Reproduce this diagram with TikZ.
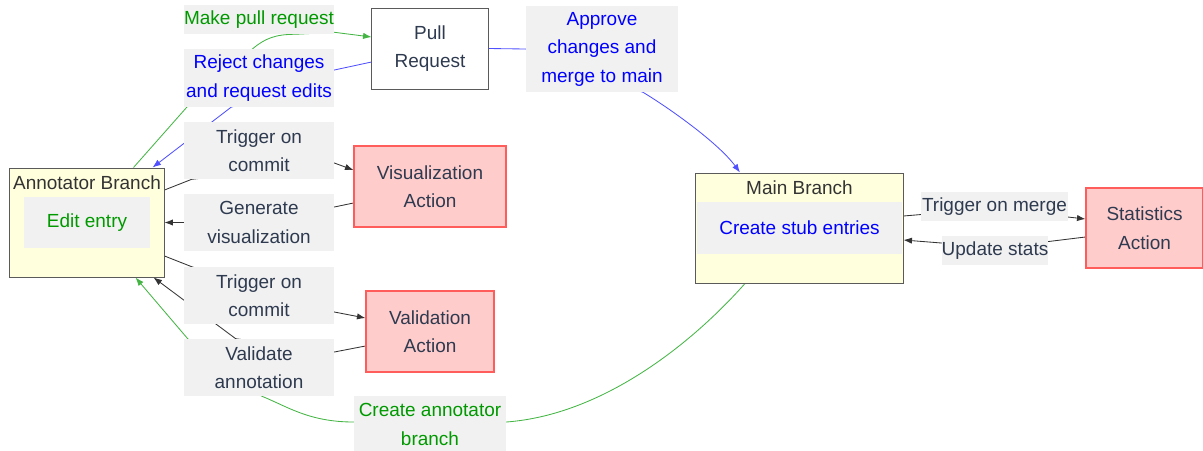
\documentclass[tikz,border=0pt]{standalone}
\usepackage{fontspec}
\setmainfont{Liberation Sans}
\usetikzlibrary{arrows.meta,calc,backgrounds}

\definecolor{lblgray}{HTML}{F1F1F1}
\definecolor{branchyellow}{HTML}{FFFFDE}
\definecolor{boxgray}{HTML}{5A5A5A}
\definecolor{actpink}{HTML}{FFCCCC}
\definecolor{actred}{HTML}{FF5C5C}
\definecolor{editgreen}{HTML}{009900}
\definecolor{pureblue}{HTML}{0000FF}
\definecolor{linegreen}{HTML}{44B544}
\definecolor{lineblue}{HTML}{5050FF}
\definecolor{linegray}{HTML}{333333}
\definecolor{titledark}{HTML}{333333}
\definecolor{txtslate}{HTML}{2E3A4F}

\tikzset{
    branchbox/.style={rectangle, draw=boxgray, fill=branchyellow, line width=0.7pt},
    actionbox/.style={rectangle, draw=actred, fill=actpink, line width=0.8pt, minimum height=2.025cm},
    lbl/.style={rectangle, fill=lblgray, minimum width=3.75cm},
    arr/.style={-{Latex[length=6pt,width=4.5pt]}},
    gline/.style={draw=linegreen, line width=0.6pt},
    bline/.style={draw=lineblue, line width=0.6pt},
    eline/.style={draw=linegray, line width=0.6pt},
}

\begin{document}
\begin{tikzpicture}[x=0.025cm, y=-0.025cm,
        every node/.style={align=center, inner sep=0pt, text=txtslate,
            font=\fontsize{13.5}{20.3}\selectfont}]
    \useasboundingbox (0,0) rectangle (1203,450);

    % branches
    \node[branchbox, minimum width=3.85cm, minimum height=2.725cm] (ann) at (87,222.5) {};
    \node[text=titledark] (anntitle) at (87,183) {Annotator Branch};
    \node[fill=lblgray, minimum width=3.15cm, minimum height=1.275cm, text=editgreen] (edit) at (87,222.5) {Edit entry};

    \node[branchbox, minimum width=5.175cm, minimum height=2.75cm] (main) at (799.5,228) {};
    \node[text=titledark] (maintitle) at (799.5,188) {Main Branch};
    \node[fill=lblgray, minimum width=5.13cm, minimum height=1.3cm, text=pureblue] (stub) at (799.5,228) {Create stub entries};

    % pull request and actions
    \node[rectangle, draw=boxgray, fill=white, line width=0.7pt, minimum width=2.9cm, minimum height=2.025cm] (pr) at (430,48.5) {Pull\\Request};
    \node[actionbox, minimum width=3.8cm] (vis) at (430,186.5) {Visualization\\Action};
    \node[actionbox, minimum width=3.2cm] (val) at (430,331.5) {Validation\\Action};
    \node[actionbox, minimum width=2.925cm, minimum height=2cm] (stats) at (1144.5,228) {Statistics\\Action};

    % edge labels
    \node[lbl, minimum height=0.725cm, text=editgreen] (mpr) at (259,19.5) {Make pull request};
    \node[lbl, minimum height=1.45cm, text=pureblue] (rej) at (259,78) {Reject changes\\and request edits};
    \node[lbl, minimum height=1.425cm] (trg1) at (259,150.5) {Trigger on\\commit};
    \node[lbl, minimum height=1.425cm] (gen) at (259,222.5) {Generate\\visualization};
    \node[lbl, minimum height=1.425cm] (trg2) at (259,295.5) {Trigger on\\commit};
    \node[lbl, minimum height=1.425cm] (vld) at (259,367.5) {Validate\\annotation};
    \node[lbl, minimum width=3.8cm, minimum height=2.15cm, text=pureblue] (apr) at (602,49) {Approve\\changes and\\merge to main};
    \node[lbl, minimum width=3.8cm, minimum height=1.425cm, text=editgreen] (cab) at (430,424.5) {Create annotator\\branch};
    \node[lbl, minimum width=3.65cm, minimum height=0.725cm] (tom) at (994.5,206.5) {Trigger on merge};
    \node[lbl, minimum width=2.65cm, minimum height=0.725cm] (ust) at (995,250.5) {Update stats};

    % connectors, behind the labels
    \begin{pgfonlayer}{background}
        \draw[gline, arr] ($(ann.north east)+(-31,0)$) -- ($(rej.south west)+(3,0)$) -- ($(rej.north west)+(69,0)$)
            .. controls +(12,-10) and +(-20,0) .. ($(mpr.south)+(36,0)$) -- ($(mpr.south east)+(0,-2)$) -- ($(pr.west)+(0,-11.5)$);
        \draw[bline, arr] ($(pr.west)+(0,13.5)$) -- ($(rej.east)+(0,-8)$) -- ($(rej.south)+(-28,0)$) -- ($(ann.north east)+(-12,0)$);

        \draw[eline, arr] ($(ann.east)+(0,-32.5)$) -- ($(trg1.south west)+(8,0)$) -- ($(trg1.east)+(0,12.5)$) -- ($(vis.west)+(0,-16.5)$);
        \draw[eline, arr] ($(vis.west)+(0,16.5)$) -- ($(gen.east)+(0,-15.5)$) -- (gen.west) -- (ann.east);
        \draw[eline, arr] ($(ann.east)+(0,33.5)$) -- ($(trg2.north west)+(8,0)$) -- ($(trg2.east)+(0,16.5)$) -- ($(val.west)+(0,-13.5)$);
        \draw[eline, arr] ($(val.west)+(0,14.5)$) -- ($(vld.east)+(0,-15.5)$) -- ($(vld.north west)+(52,0)$) -- ($(ann.south east)+(-11,0)$);

        \draw[gline, arr] ($(main.south)+(-54.5,0)$) .. controls +(-55,62) and +(95,-7) .. ($(cab.east)+(0,-2.5)$)
            -- ($(cab.west)+(0,-2.5)$) .. controls +(-45,0) and +(25,10) .. ($(vld.south)+(3,0)$)
            -- ($(vld.north west)+(4,0)$) -- ($(ann.south east)+(-29,0)$);

        \draw[bline, arr] (pr.east) -- (apr.west) -- ($(apr.south)+(41,0)$)
            .. controls +(25,15) and +(-22,-30) .. ($(main.north)+(-59.5,0)$);

        \draw[eline, arr] ($(main.east)+(0,-12)$) -- ($(tom.west)+(0,8)$) -- ($(tom.east)+(0,10.5)$) -- ($(stats.west)+(0,-9)$);
        \draw[eline, arr] ($(stats.west)+(0,9)$) -- ($(ust.east)+(0,-9)$) -- ($(ust.west)+(0,-7.5)$) -- ($(main.east)+(0,12)$);
    \end{pgfonlayer}
\end{tikzpicture}
\end{document}
